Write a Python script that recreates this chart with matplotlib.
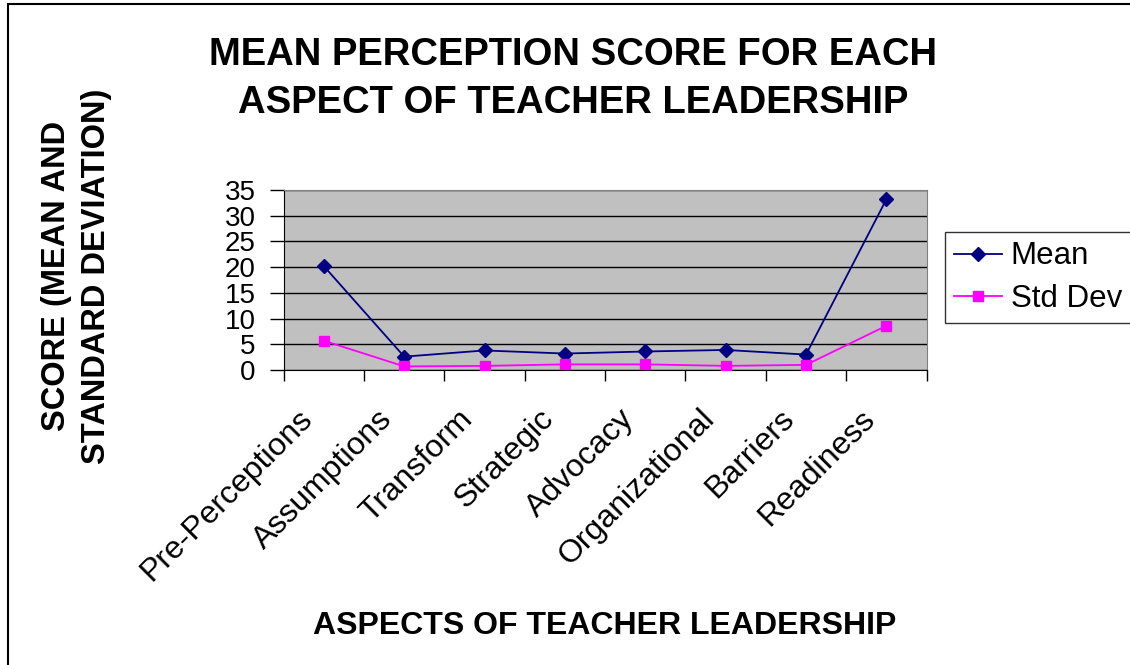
import matplotlib
matplotlib.use("Agg")
import matplotlib.pyplot as plt
from matplotlib.patches import Rectangle
from matplotlib.transforms import ScaledTranslation

categories = ["Pre-Perceptions", "Assumptions", "Transform", "Strategic",
              "Advocacy", "Organizational", "Barriers", "Readiness"]
mean_vals = [20.2, 2.6, 3.8, 3.2, 3.6, 3.9, 3.0, 33.2]
std_vals = [5.7, 0.7, 0.8, 1.1, 1.1, 0.8, 1.0, 8.6]
y_ticks = [0, 5, 10, 15, 20, 25, 30, 35]

plt.rcParams['font.family'] = ['Liberation Sans', 'DejaVu Sans']

fig = plt.figure(figsize=(11.3, 6.65), dpi=100)
ax = fig.add_axes([0.251, 0.4436, 0.569, 0.2707])
ax.set_facecolor('#C0C0C0')

x = list(range(len(categories)))
ax.plot(x, mean_vals, color='#000080', marker='D', markersize=7, lw=1.3, label='Mean', zorder=3)
ax.plot(x, std_vals, color='#FF00FF', marker='s', markersize=7, lw=1.3, label='Std Dev', zorder=3)

ax.set_xlim(-0.5, len(categories) - 0.5)
ax.set_ylim(0, 35)
ax.set_yticks(y_ticks)
ax.set_yticklabels([str(v) for v in y_ticks], fontsize=20)
ax.yaxis.grid(True, color='black', lw=1)
ax.set_axisbelow(True)

ax.set_xticks([i + 0.5 for i in range(-1, len(categories))], minor=False)
ax.set_xticklabels([])
ax.set_xticks(x, minor=True)
ax.tick_params(axis='x', which='minor', length=0, pad=32)
ax.tick_params(axis='x', which='major', length=8, direction='out', width=1)
ax.tick_params(axis='y', length=10, width=1, pad=10)
ax.set_xticklabels(categories, minor=True, rotation=45, ha='right', va='center',
                   rotation_mode='anchor', fontsize=23)
for lab in ax.get_xticklabels(minor=True):
    lab.set_transform(lab.get_transform() + ScaledTranslation(-16 / 100, 0, fig.dpi_scale_trans))

for side in ['top', 'right']:
    ax.spines[side].set_color('#808080')
for side in ['left', 'bottom']:
    ax.spines[side].set_color('black')

fig.text(0.5075, 0.917, "MEAN PERCEPTION SCORE FOR EACH", ha='center', va='center',
         fontsize=27.5, fontweight='bold')
fig.text(0.5075, 0.845, "ASPECT OF TEACHER LEADERSHIP", ha='center', va='center',
         fontsize=27.5, fontweight='bold')

fig.text(0.050, 0.585, "SCORE (MEAN AND", rotation=90, ha='center', va='center',
         fontsize=23.5, fontweight='bold')
fig.text(0.085, 0.585, "STANDARD DEVIATION)", rotation=90, ha='center', va='center',
         fontsize=23.5, fontweight='bold')

fig.text(0.535, 0.058, "ASPECTS OF TEACHER LEADERSHIP", ha='center', va='center',
         fontsize=23, fontweight='bold')

leg = ax.legend(loc='upper left', bbox_to_anchor=(0.836, 0.651), bbox_transform=fig.transFigure,
                fontsize=22.5, frameon=True, fancybox=False, edgecolor='black',
                borderaxespad=0, handlelength=1.55, labelspacing=0.4, borderpad=0.3,
                handletextpad=0.26)
leg.get_frame().set_linewidth(1)

fig.patches.append(Rectangle((8 / 1130, -0.05), 1.1, 1.05 - 4 / 665,
                             transform=fig.transFigure, fill=False, edgecolor='black',
                             lw=1.5, zorder=0))

fig.savefig('out.png', dpi=100)
